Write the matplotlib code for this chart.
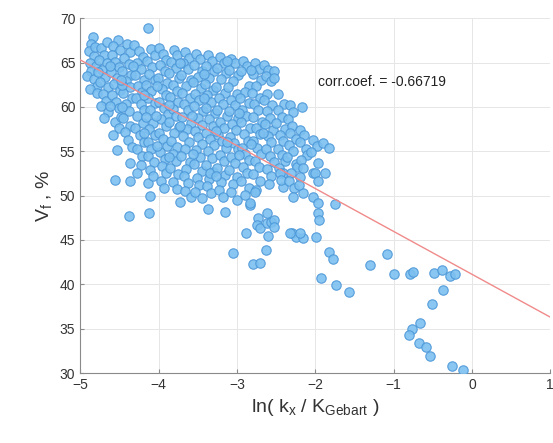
import matplotlib
matplotlib.use("Agg")
import numpy as np
import matplotlib.pyplot as plt

# points, grouped by x band (x, Vf)
band_a = [(-4.84, 67.9), (-4.86, 67.1), (-4.89, 66.3), (-4.82, 65.7), (-4.88, 65.0), (-4.80, 64.6),
          (-4.86, 64.0), (-4.91, 63.5), (-4.83, 63.1), (-4.79, 62.4), (-4.87, 62.0), (-4.81, 66.8),
          (-4.78, 61.6)]
band_b = [(-4.74, 66.6), (-4.70, 65.9), (-4.76, 65.3), (-4.66, 64.9), (-4.72, 64.2), (-4.68, 63.4),
          (-4.75, 62.8), (-4.65, 62.2), (-4.71, 61.5), (-4.67, 60.7), (-4.73, 60.1), (-4.64, 59.4),
          (-4.69, 58.8), (-4.66, 67.3), (-4.77, 63.9)]
band_c = [(-4.52, 67.5), (-4.58, 66.9), (-4.49, 66.4), (-4.60, 65.8), (-4.55, 65.1), (-4.50, 64.5),
          (-4.61, 63.9), (-4.53, 63.3), (-4.57, 62.6), (-4.49, 61.9), (-4.59, 61.3), (-4.54, 60.6),
          (-4.50, 59.9), (-4.62, 60.1), (-4.56, 58.3), (-4.51, 57.6), (-4.58, 56.8), (-4.53, 55.1),
          (-4.55, 51.8), (-4.48, 58.9)]
band_d = [(-4.40, 67.1), (-4.36, 66.2), (-4.44, 65.5), (-4.38, 64.8), (-4.46, 64.1), (-4.35, 63.6),
          (-4.42, 62.9), (-4.37, 62.2), (-4.45, 61.6), (-4.34, 61.0), (-4.41, 60.3), (-4.38, 59.5),
          (-4.45, 58.7), (-4.36, 57.9), (-4.43, 57.2), (-4.39, 56.3), (-4.34, 55.5), (-4.36, 53.7),
          (-4.36, 51.7), (-4.38, 47.7), (-4.46, 60.0)]
band_e = [(-4.31, 67.0), (-4.25, 66.3), (-4.20, 65.6), (-4.28, 65.0), (-4.22, 64.3), (-4.30, 63.6),
          (-4.19, 63.0), (-4.26, 62.4), (-4.21, 61.7), (-4.29, 61.0), (-4.23, 60.3), (-4.18, 59.6),
          (-4.27, 59.0), (-4.20, 58.2), (-4.30, 57.6), (-4.24, 56.8), (-4.19, 56.0), (-4.27, 55.3),
          (-4.21, 54.5), (-4.23, 53.4), (-4.28, 52.6)]
band_f = [(-4.14, 68.9), (-4.10, 66.5), (-4.05, 65.8), (-4.15, 65.2), (-4.08, 64.5), (-4.12, 63.7),
          (-4.04, 63.0), (-4.16, 62.5), (-4.09, 61.8), (-4.13, 61.0), (-4.05, 60.4), (-4.11, 59.7),
          (-4.16, 58.9), (-4.07, 58.2), (-4.12, 57.5), (-4.04, 56.8), (-4.14, 56.0), (-4.09, 55.3),
          (-4.13, 54.5), (-4.06, 53.8), (-4.11, 52.9), (-4.14, 51.4), (-4.11, 49.9), (-4.12, 48.0),
          (-4.07, 52.2)]
band_g = [(-4.00, 66.6), (-3.94, 66.0), (-3.90, 65.3), (-3.98, 64.7), (-3.92, 64.0), (-4.01, 63.3),
          (-3.89, 62.7), (-3.96, 62.0), (-3.91, 61.3), (-3.99, 60.6), (-3.93, 59.9), (-3.88, 59.2),
          (-3.97, 58.6), (-3.91, 57.8), (-4.00, 57.1), (-3.94, 56.4), (-3.89, 55.6), (-3.98, 54.9),
          (-3.92, 54.1), (-3.95, 53.3), (-3.90, 52.5), (-3.97, 51.7), (-3.93, 50.9), (-4.02, 55.6)]
band_h = [(-3.80, 66.4), (-3.76, 65.8), (-3.84, 65.1), (-3.78, 64.4), (-3.86, 63.8), (-3.74, 63.2),
          (-3.81, 62.5), (-3.77, 61.8), (-3.85, 61.1), (-3.75, 60.5), (-3.82, 59.8), (-3.78, 59.0),
          (-3.86, 58.3), (-3.74, 57.7), (-3.80, 57.0), (-3.84, 56.2), (-3.76, 55.5), (-3.82, 54.7),
          (-3.78, 53.9), (-3.85, 53.1), (-3.75, 52.4), (-3.81, 51.5), (-3.77, 50.7), (-3.73, 49.3)]
band_i = [(-3.66, 66.2), (-3.61, 65.5), (-3.69, 64.9), (-3.63, 64.3), (-3.71, 63.6), (-3.59, 63.0),
          (-3.65, 62.3), (-3.70, 61.6), (-3.60, 61.0), (-3.67, 60.3), (-3.62, 59.6), (-3.70, 58.9),
          (-3.58, 58.2), (-3.64, 57.5), (-3.69, 56.7), (-3.61, 56.0), (-3.66, 55.3), (-3.71, 54.5),
          (-3.60, 53.8), (-3.65, 53.0), (-3.68, 52.2), (-3.62, 51.4), (-3.66, 50.5), (-3.59, 49.8)]
band_j = [(-3.52, 66.0), (-3.47, 65.4), (-3.55, 64.7), (-3.44, 64.1), (-3.50, 63.4), (-3.56, 62.8),
          (-3.46, 62.1), (-3.53, 61.4), (-3.48, 60.8), (-3.55, 60.1), (-3.43, 59.5), (-3.50, 58.8),
          (-3.45, 58.0), (-3.54, 57.3), (-3.49, 56.6), (-3.44, 55.8), (-3.52, 55.1), (-3.47, 54.3),
          (-3.55, 53.6), (-3.45, 52.8), (-3.51, 52.0), (-3.48, 51.2), (-3.54, 50.4), (-3.44, 49.7)]
band_k = [(-3.37, 65.8), (-3.32, 65.2), (-3.40, 64.6), (-3.29, 64.0), (-3.35, 63.3), (-3.41, 62.6),
          (-3.30, 61.9), (-3.38, 61.3), (-3.33, 60.6), (-3.40, 59.9), (-3.28, 59.3), (-3.36, 58.6),
          (-3.31, 57.9), (-3.39, 57.1), (-3.34, 56.4), (-3.29, 55.7), (-3.37, 55.0), (-3.32, 54.2),
          (-3.40, 53.5), (-3.30, 52.7), (-3.35, 51.9), (-3.38, 51.1), (-3.33, 50.3), (-3.37, 48.5),
          (-3.34, 52.5)]
band_l = [(-3.22, 65.6), (-3.17, 65.0), (-3.25, 64.4), (-3.14, 63.8), (-3.20, 63.1), (-3.26, 62.2),
          (-3.15, 61.6), (-3.23, 61.0), (-3.18, 60.3), (-3.25, 59.6), (-3.13, 59.0), (-3.21, 58.3),
          (-3.16, 57.6), (-3.24, 56.8), (-3.19, 56.1), (-3.14, 55.4), (-3.22, 54.6), (-3.17, 53.9),
          (-3.25, 53.1), (-3.15, 52.3), (-3.20, 51.5), (-3.23, 50.6), (-3.15, 48.2), (-3.18, 49.8)]
band_m = [(-3.07, 65.4), (-3.02, 64.9), (-3.10, 64.2), (-2.99, 63.6), (-3.05, 62.9), (-3.11, 62.2),
          (-3.00, 61.5), (-3.08, 60.8), (-3.03, 60.2), (-3.10, 59.5), (-2.98, 58.8), (-3.06, 58.1),
          (-3.01, 57.4), (-3.09, 56.6), (-3.04, 55.9), (-2.99, 55.2), (-3.07, 54.4), (-3.02, 53.7),
          (-3.10, 52.9), (-3.00, 52.1), (-3.05, 51.3), (-3.08, 50.4), (-3.00, 49.5), (-3.05, 43.5)]
band_n = [(-2.92, 65.2), (-2.87, 64.6), (-2.95, 64.0), (-2.84, 62.4), (-2.90, 61.7), (-2.96, 61.0),
          (-2.85, 60.4), (-2.93, 59.7), (-2.88, 59.0), (-2.95, 58.3), (-2.83, 57.6), (-2.91, 56.9),
          (-2.86, 56.2), (-2.94, 55.4), (-2.89, 54.7), (-2.84, 54.0), (-2.92, 53.2), (-2.87, 52.5),
          (-2.95, 51.7), (-2.85, 50.9), (-2.90, 50.1), (-2.83, 48.9), (-2.88, 45.8), (-2.83, 49.2)]
band_o = [(-2.77, 64.9), (-2.72, 64.3), (-2.80, 63.7), (-2.69, 63.0), (-2.75, 62.3), (-2.81, 61.6),
          (-2.70, 61.0), (-2.78, 60.3), (-2.73, 59.6), (-2.80, 58.9), (-2.68, 58.3), (-2.76, 57.6),
          (-2.71, 56.9), (-2.79, 56.1), (-2.74, 55.4), (-2.69, 54.7), (-2.77, 53.9), (-2.72, 53.2),
          (-2.80, 52.4), (-2.70, 51.6), (-2.75, 50.6), (-2.77, 50.4), (-2.73, 47.5), (-2.74, 46.7),
          (-2.80, 42.3), (-2.71, 42.4), (-2.70, 46.4)]
band_p = [(-2.66, 64.7), (-2.60, 64.2), (-2.63, 63.5), (-2.56, 62.9), (-2.61, 61.5), (-2.65, 60.8),
          (-2.55, 60.2), (-2.62, 59.5), (-2.58, 58.8), (-2.64, 58.1), (-2.54, 57.4), (-2.60, 56.7),
          (-2.56, 56.0), (-2.63, 55.2), (-2.58, 54.5), (-2.53, 53.8), (-2.61, 53.0), (-2.56, 52.2),
          (-2.59, 51.3), (-2.61, 48.0), (-2.61, 46.9), (-2.57, 47.0), (-2.60, 45.5), (-2.63, 43.9),
          (-2.53, 47.2), (-2.52, 46.5)]
band_q = [(-2.53, 64.0), (-2.52, 63.2), (-2.47, 61.4), (-2.40, 60.3), (-2.48, 59.6), (-2.43, 58.9),
          (-2.50, 58.2), (-2.39, 57.5), (-2.45, 56.8), (-2.41, 56.1), (-2.48, 55.3), (-2.43, 54.6),
          (-2.38, 53.9), (-2.46, 53.1), (-2.41, 52.5), (-2.45, 52.5), (-2.41, 51.0), (-2.44, 51.8)]
band_r = [(-2.32, 60.2), (-2.28, 59.4), (-2.35, 58.6), (-2.30, 57.8), (-2.32, 57.0), (-2.25, 56.4),
          (-2.34, 55.7), (-2.28, 55.0), (-2.36, 54.3), (-2.24, 53.6), (-2.23, 53.2), (-2.31, 52.6),
          (-2.34, 51.7), (-2.27, 50.8), (-2.28, 49.8), (-2.29, 45.8), (-2.24, 45.3), (-2.32, 45.8)]
band_s = [(-2.17, 60.0), (-2.20, 57.4), (-2.14, 56.8), (-2.19, 56.0), (-2.12, 55.3), (-2.10, 54.6),
          (-2.18, 54.0), (-2.15, 53.1), (-2.19, 52.1), (-2.15, 50.3), (-2.15, 45.2), (-2.19, 45.8),
          (-2.21, 51.2)]
band_t = [(-2.03, 56.3), (-1.98, 55.6), (-2.05, 54.9), (-1.96, 53.7), (-2.03, 52.6), (-2.00, 52.5),
          (-1.97, 51.7), (-2.03, 49.8), (-1.96, 49.2), (-1.96, 48.0), (-1.95, 47.2), (-1.99, 45.3),
          (-1.90, 55.9), (-1.92, 40.7)]
band_u = [(-1.83, 55.4), (-1.87, 52.5), (-1.75, 49.0), (-1.83, 43.6), (-1.77, 42.8), (-1.74, 39.9),
          (-1.57, 39.1), (-1.30, 42.2), (-1.09, 43.4), (-1.00, 41.2), (-0.79, 41.2), (-0.75, 41.4),
          (-0.49, 41.3), (-0.38, 41.6), (-0.28, 40.9), (-0.21, 41.2), (-0.37, 39.4), (-0.51, 37.8),
          (-0.66, 35.6), (-0.76, 35.0), (-0.80, 34.3), (-0.68, 33.4), (-0.58, 32.9), (-0.53, 31.9),
          (-0.25, 30.8), (-0.11, 30.3)]
# in-between points of the dense core
band_core = [(-4.62, 64.6), (-4.47, 62.5), (-4.33, 64.6), (-4.18, 61.3), (-4.03, 59.0), (-3.87, 60.2),
             (-3.72, 57.9), (-3.57, 59.0), (-3.42, 61.0), (-3.27, 57.3), (-3.12, 56.0), (-2.97, 59.3),
             (-2.82, 55.8), (-2.67, 57.0), (-3.87, 54.3), (-3.56, 54.7), (-3.27, 52.2), (-2.97, 54.6),
             (-4.02, 62.3), (-3.72, 65.0), (-3.42, 63.7), (-3.12, 65.2), (-2.82, 64.2), (-4.18, 57.0),
             (-4.48, 63.0)]

# fitted line ends
fit_x = [-5, 1]
fit_y = [65.3, 36.3]
corr_text = "corr.coef. = -0.66719"

bands = [band_a, band_b, band_c, band_d, band_e, band_f, band_g, band_h, band_i, band_j, band_k,
         band_l, band_m, band_n, band_o, band_p, band_q, band_r, band_s, band_t, band_u, band_core]
pts = np.array([p for b in bands for p in b])
x, y = pts[:, 0], pts[:, 1]

plt.rcParams['font.family'] = ['Liberation Sans', 'DejaVu Sans']
plt.rcParams['mathtext.default'] = 'regular'

fig = plt.figure(figsize=(5.53, 4.43), dpi=100)
ax = fig.add_axes([0.145, 0.158, 0.850, 0.801])

ax.scatter(x, y, s=46, facecolor='#7cc0f0', edgecolor='#4b97d8', linewidth=0.8, alpha=0.9, zorder=3)
ax.plot(fit_x, fit_y, color='#f08a8a', lw=1.0, zorder=4)

ax.set_xlim(-5, 1)
ax.set_ylim(30, 70)
ax.set_xticks(np.arange(-5, 2, 1))
ax.set_yticks(np.arange(30, 75, 5))
ax.grid(True, color='#e6e6e6', lw=0.7)
ax.set_axisbelow(True)
for s in ['top', 'right']:
    ax.spines[s].set_visible(False)
for s in ['left', 'bottom']:
    ax.spines[s].set_color('#8a8a8a')
    ax.spines[s].set_linewidth(0.8)
ax.tick_params(direction='in', length=3, color='#8a8a8a', labelsize=10, labelcolor='#333333')

ax.set_xlabel('ln( k$_x$ / K$_{Gebart}$ )', fontsize=14, color='#333333')
ax.set_ylabel('V$_f$ , %', fontsize=14, color='#333333')
ax.text(-1.96, 62.8, corr_text, fontsize=10, va='center', ha='left', color='#222222')

fig.savefig('out.png', dpi=100)
